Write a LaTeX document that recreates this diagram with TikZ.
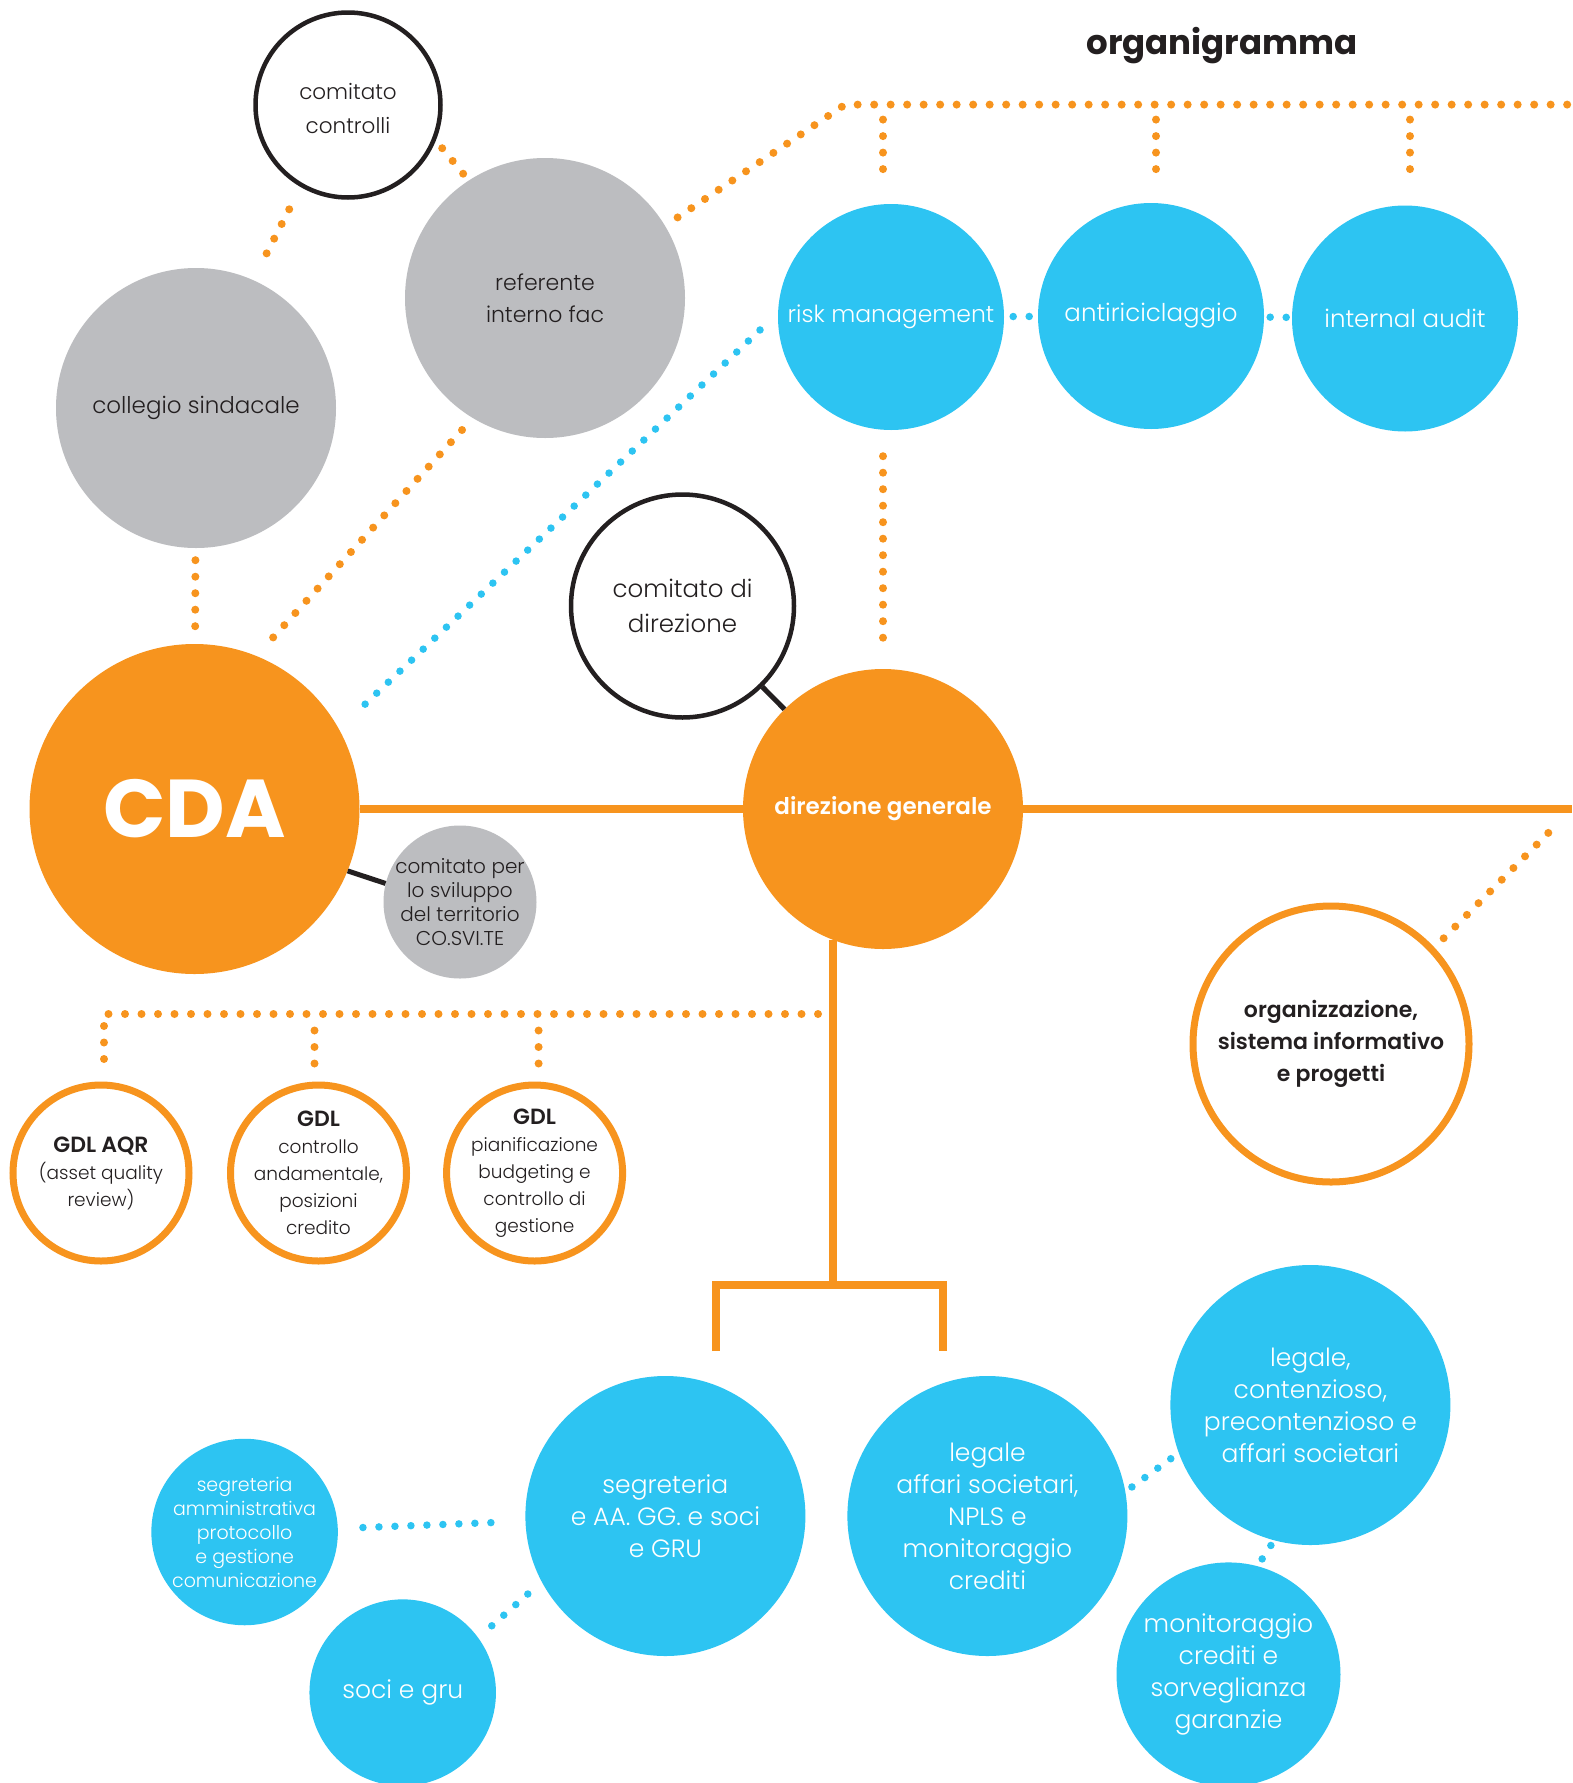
\documentclass[tikz,border=0pt]{standalone}
\usepackage{fontspec}
\setmainfont{Poppins}[UprightFont=* Light, BoldFont=* SemiBold]
\newfontfamily\heavyfont{Poppins}[UprightFont=* Bold]
\newcommand{\fsz}[2]{\fontsize{#1}{#2}\selectfont}
\definecolor{orgorange}{HTML}{F7941E}
\definecolor{orgblue}{HTML}{2DC4F2}
\definecolor{orggray}{HTML}{BCBDC0}
\definecolor{orgtext}{HTML}{231F20}
\begin{document}
\begin{tikzpicture}[x=1pt, y=-1pt,
  ball/.style={circle, inner sep=-20pt, align=center},
  blueball/.style={ball, fill=orgblue, text=white},
  grayball/.style={ball, fill=orggray, text=orgtext},
  orangeball/.style={ball, fill=orgorange, text=white},
  ringblack/.style={ball, draw=orgtext, line width=4.5pt, fill=white, text=orgtext},
  ringorange/.style={ball, draw=orgorange, line width=7pt, fill=white, text=orgtext},
  mainline/.style={draw=orgorange, line width=7.5pt},
  blackline/.style={draw=orgtext, line width=5pt},
  odots/.style={draw=orgorange, line width=8pt, line cap=round, dash pattern=on 0pt off 16.5pt},
  bdots/.style={draw=orgblue, line width=7.5pt, line cap=round, dash pattern=on 0pt off 16pt}]
  \path[use as bounding box, fill=white] (0,0) rectangle (1572,1783);
  \node[anchor=base, font=\heavyfont\fsz{34}{40}, text=orgtext] (title) at (1222,54) {organigramma};
  % controlli e organi del CDA
  \node[ringblack, minimum size=185pt, font=\fsz{21.5}{34}] (comctrl) at (348,105) {\strut comitato\\controlli};
  \node[grayball, minimum size=280pt, font=\fsz{22}{32}] (referente) at (545,298) {referente\\interno fac};
  \node[grayball, minimum size=280pt, font=\fsz{23}{28}] (collegio) at (196,408) {\strut collegio sindacale};
  \node[orangeball, minimum size=330pt, font=\heavyfont\fsz{82}{90}] (cda) at (194.5,809) {CDA};
  \node[grayball, minimum size=153pt, font=\fsz{20}{24}] (cosvite) at (460,902) {comitato per\\lo sviluppo\\del territorio\\CO.SVI.TE};
  \node[ringblack, minimum size=223pt, font=\fsz{24.5}{35}] (comdir) at (682.5,606) {comitato di\\direzione};
  \node[orangeball, minimum size=280pt, font=\bfseries\fsz{23}{28}] (dg) at (883,809) {direzione generale};
  % funzioni di controllo
  \node[blueball, minimum size=226pt, font=\fsz{23.5}{30}] (risk) at (891,317) {risk management};
  \node[blueball, minimum size=226pt, font=\fsz{24.5}{30}] (anti) at (1151,316) {antiriciclaggio};
  \node[blueball, minimum size=226pt, font=\fsz{24.5}{30}] (audit) at (1405,318.5) {internal audit};
  \node[ringorange, minimum size=276pt, font=\bfseries\fsz{22}{32}] (org) at (1331,1044) {organizzazione,\\sistema informativo\\e progetti};
  % gruppi di lavoro
  \node[ringorange, minimum size=176pt, font=\fsz{18.5}{27}] (gdlaqr) at (101,1173) {{\bfseries\fsz{22}{27}GDL AQR}\\(asset quality\\review)};
  \node[ringorange, minimum size=176pt, font=\fsz{18.5}{27}] (gdlctrl) at (318.5,1173) {{\bfseries\fsz{22}{27}GDL}\\controllo\\andamentale,\\posizioni\\credito};
  \node[ringorange, minimum size=176pt, font=\fsz{18.5}{27}] (gdlpian) at (534.6,1173) {{\bfseries\fsz{22}{27}GDL}\\pianificazione\\budgeting e\\controllo di\\gestione};
  % aree operative
  \node[blueball, minimum size=280pt, font=\fsz{25}{32}] (segr) at (665.4,1516) {segreteria\\e AA. GG. e soci\\e GRU};
  \node[blueball, minimum size=280pt, font=\fsz{25}{32}] (legaff) at (987.4,1516) {legale\\affari societari,\\NPLS e\\monitoraggio\\crediti};
  \node[blueball, minimum size=280pt, font=\fsz{25}{32}] (legcont) at (1310.4,1405) {legale,\\contenzioso,\\precontenzioso e\\affari societari};
  \node[blueball, minimum size=224pt, font=\fsz{25}{32}] (monit) at (1228.5,1674.4) {monitoraggio\\crediti e\\sorveglianza\\garanzie};
  \node[blueball, minimum size=186.5pt, font=\fsz{19}{24}] (segamm) at (244.6,1532) {segreteria\\amministrativa\\protocollo\\e gestione\\comunicazione};
  \node[blueball, minimum size=186.5pt, font=\fsz{25}{30}] (soci) at (402.7,1692.6) {soci e gru};
  % punti liberi
  \coordinate (topcorner) at (845,104.6);
  \coordinate (topend) at (1572,104.6);
  \coordinate (rightend) at (1572,809);
  \coordinate (gdlrow) at (818,1014);
  \coordinate (split) at (832,1285);
  \coordinate (bleft) at (716,1351);
  \coordinate (bright) at (943,1351);
  % linee piene
  \draw[mainline] (cda) -- (dg);
  \draw[mainline] (dg) -- (rightend);
  \draw[mainline] (dg.-111) -- (dg.-111 |- split);
  \draw[mainline] (bleft) |- (split) -| (bright);
  \draw[blackline] (comdir) -- (dg);
  \draw[blackline] (cda.-22) -- (cosvite.166);
  % punteggiate arancio
  \draw[odots, shorten <=12pt, shorten >=12pt] (collegio) -- (cda);
  \draw[odots, shorten <=25pt, shorten >=18pt] (comctrl.-120) -- (collegio.66);
  \draw[odots, shorten <=10pt, shorten >=7pt] (comctrl.-22) -- (referente.123);
  \draw[odots, shorten <=16pt, shorten >=14pt] (referente.-121) -- (cda.68);
  \draw[odots, shorten <=15pt] (referente.31) -- (topcorner) -- (topend);
  \draw[odots, shorten <=15pt, shorten >=32pt] ([xshift=-8pt]risk.north |- topcorner) -- ([xshift=-8pt]risk.north);
  \draw[odots, shorten <=15pt, shorten >=32pt] ([xshift=5pt]anti.north |- topcorner) -- ([xshift=5pt]anti.north);
  \draw[odots, shorten <=15pt, shorten >=32pt] ([xshift=5pt]audit.north |- topcorner) -- ([xshift=5pt]audit.north);
  \draw[odots, shorten <=26pt, shorten >=17pt] (dg.north |- risk.south) -- (dg.north);
  \draw[odots, shorten <=13pt, shorten >=22pt] (org.43) -- (rightend);
  \draw[odots, shorten >=22pt] (gdlrow) -- ([xshift=3pt]gdlaqr.north |- gdlrow) -- ([xshift=3pt]gdlaqr.north);
  \draw[odots, shorten <=16.5pt, shorten >=14pt] ([xshift=-4pt]gdlctrl.north |- gdlrow) -- ([xshift=-4pt]gdlctrl.north);
  \draw[odots, shorten <=16.5pt, shorten >=16pt] ([xshift=4pt]gdlpian.north |- gdlrow) -- ([xshift=4pt]gdlpian.north);
  % punteggiate blu
  \draw[bdots, shorten <=36pt, shorten >=12pt] (cda.29) -- (risk.178);
  \draw[bdots, shorten <=9pt, shorten >=5pt] (risk) -- (anti);
  \draw[bdots, shorten <=6pt, shorten >=1pt] (anti) -- (audit);
  \draw[bdots, shorten <=25pt, shorten >=32pt] (segamm) -- (segr);
  \draw[bdots, shorten <=18pt, shorten >=13pt] (soci.36) -- (segr.-152);
  \draw[bdots, shorten <=8pt, shorten >=8pt] (legaff.10) -- (legcont.-160);
  \draw[bdots, shorten <=6pt, shorten >=3pt] (legcont.-105) -- (monit.75);
\end{tikzpicture}
\end{document}
